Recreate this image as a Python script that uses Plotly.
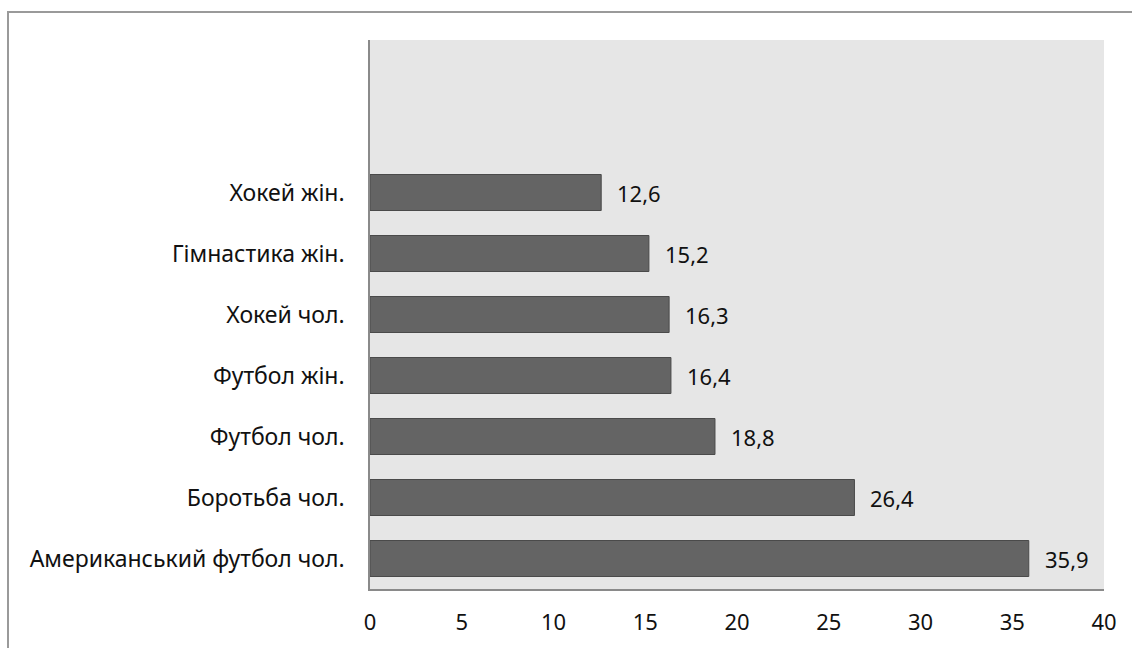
import plotly.graph_objects as go

categories = [
    "Американський футбол чол.",
    "Боротьба чол.",
    "Футбол чол.",
    "Футбол жін.",
    "Хокей чол.",
    "Гімнастика жін.",
    "Хокей жін.",
]
values = [35.9, 26.4, 18.8, 16.4, 16.3, 15.2, 12.6]
x_ticks = [0, 5, 10, 15, 20, 25, 30, 35, 40]

FONT = "Noto Sans"
FS = 22

fig = go.Figure()
fig.add_trace(go.Bar(
    y=categories,
    x=values,
    orientation="h",
    width=0.59,
    marker=dict(color="#646464", line=dict(color="#4a4a4a", width=1)),
    hoverinfo="skip",
))

for c, v in zip(categories, values):
    fig.add_annotation(
        x=v, y=c, xref="x", yref="y",
        text=f"{v:.1f}".replace(".", ","),
        showarrow=False, xanchor="left", xshift=14,
        font=dict(family=FONT, size=FS, color="#111111"),
    )

W, H = 1132, 648
L, R, T, B = 370, 28, 40, 59
pw, ph = W - L - R, H - T - B
fig.add_shape(
    type="rect", xref="paper", yref="paper",
    x0=(8 - L) / pw, x1=(W + 10 - L) / pw,
    y0=-(H + 10 - T - ph) / ph, y1=1 + (T - 12) / ph,
    line=dict(color="#9a9a9a", width=2), fillcolor="rgba(0,0,0,0)", layer="below",
)

fig.update_layout(
    width=W, height=H,
    margin=dict(l=L, r=R, t=T, b=B, pad=0, autoexpand=False),
    paper_bgcolor="white",
    plot_bgcolor="#e6e6e6",
    showlegend=False,
    separators=", ",
    font=dict(family=FONT, size=FS, color="#111111"),
    xaxis=dict(
        range=[0, 40], tickvals=x_ticks, showgrid=False, zeroline=False,
        showline=True, linecolor="#8a8a8a", linewidth=1.5,
        ticks="outside", ticklen=0, ticklabelstandoff=13, automargin=False,
        tickfont=dict(family=FONT, size=FS),
    ),
    yaxis=dict(
        type="category", categoryorder="array", categoryarray=categories,
        range=[-0.5, 8.5], showgrid=False, zeroline=False,
        showline=True, linecolor="#8a8a8a", linewidth=1.5,
        ticks="outside", ticklen=0, ticklabelstandoff=19, automargin=False,
        tickfont=dict(family=FONT, size=23),
    ),
)

fig.write_html("out.html")
